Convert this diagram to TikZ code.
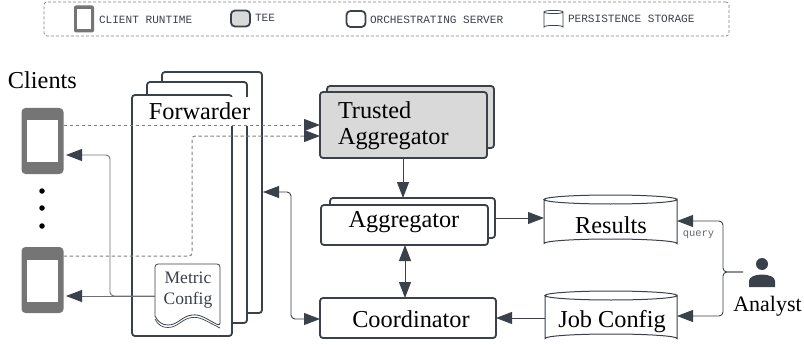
\documentclass[tikz,border=0pt]{standalone}
\usepackage{fontspec}
\setmainfont{Liberation Serif}
\setmonofont{Liberation Mono}
\usetikzlibrary{arrows.meta,calc}
\definecolor{slate}{HTML}{3A414A}
\definecolor{phonegray}{HTML}{757575}
\definecolor{teegray}{HTML}{D9D9D9}
\definecolor{dashgray}{HTML}{808080}
\newcommand{\fsz}[1]{\fontsize{#1}{#1}\selectfont}
\newcommand{\cylw}{133}
\newcommand{\cylpath}[3][]{%
  \draw[slate,line width=1pt,fill=white,#1] (#2.north west) -- (#2.south west)
    arc[start angle=180,end angle=360,x radius=0.5*\cylw,y radius=#3]
    -- (#2.north east)
    arc[start angle=0,end angle=360,x radius=0.5*\cylw,y radius=#3];}
\tikzset{
  x=1pt,y=-1pt,
  every node/.style={inner sep=0pt,outer sep=0pt},
  size/.style 2 args={minimum width=#1,minimum height=#2},
  box/.style={draw=slate,line width=1.8pt,rounded corners=3pt,fill=white},
  tee/.style={box,fill=teegray},
  phone/.style={fill=phonegray,rounded corners=3pt},
  screen/.style={fill=white},
  big/.style={font=\fsz{24.3}},
  legend/.style={font=\ttfamily\fsz{11.1},text=slate,anchor=west},
  conn/.style={draw=slate,line width=0.9pt,rounded corners=4pt},
  endtip/.style={-{Triangle[length=16pt,width=12pt,color=slate]}},
  bothtip/.style={{Triangle[length=16pt,width=12pt,color=slate]}-{Triangle[length=16pt,width=12pt,color=slate]}},
  dashconn/.style={draw=dashgray,line width=1pt,dash pattern=on 3.5pt off 2.5pt,rounded corners=3pt},
}
\begin{document}
\begin{tikzpicture}
\useasboundingbox (0,0) rectangle (804,345);
% legend
\node[draw=dashgray,line width=0.7pt,dash pattern=on 3pt off 2pt,rounded corners=3pt,size={685}{34}] (legend) at (386.5,19) {};
\node[phone,size={20}{27},rounded corners=2pt] (lgclient) at (84,19) {};
\node[screen,size={14}{20}] (lgscreen) at (84,19) {};
\node[legend] (lgclienttext) at (99,19.5) {CLIENT RUNTIME};
\node[tee,size={19}{16},rounded corners=4pt] (lgtee) at (240.5,18.5) {};
\node[legend] (lgteetext) at (255,18) {TEE};
\node[box,size={19}{16},rounded corners=4pt] (lgserver) at (356,19) {};
\node[legend] (lgservertext) at (370,19.5) {ORCHESTRATING SERVER};
\node[size={19}{15}] (lgcyl) at (553.5,19.5) {};
\renewcommand{\cylw}{19}\cylpath[line width=0.8pt]{lgcyl}{1.6}
\node[legend] (lgcyltext) at (568,18.5) {PERSISTENCE STORAGE};
% clients
\node[big,anchor=west] (clients) at (8,80) {Clients};
\node[phone,size={42}{66},rounded corners=4pt] (phoneA) at (42.5,141) {};
\node[screen,size={31}{42}] (screenA) at (42.5,141) {};
\node[phone,size={42}{66},rounded corners=4pt] (phoneB) at (42.5,280) {};
\node[screen,size={31}{42}] (screenB) at (42.5,280.5) {};
\foreach \n/\y in {a/191,b/208,c/226}
  \node[fill=black,circle,minimum size=5.5pt] (dot\n) at (42,\y) {};
% forwarder stack
\node[box,size={100}{241}] (fwC) at (212,192.5) {};
\node[box,size={100}{241}] (fwB) at (197,202.5) {};
\node[box,size={100}{241}] (fwA) at (182,215.5) {};
\node[big,fill=white,size={103}{28}] (fwlabel) at (199.5,111.5) {Forwarder};
% metric config
\node[size={65}{62}] (metric) at (187.5,295) {};
\draw[slate,line width=0.8pt,fill=white,rounded corners=3pt] (155,316) -- (155,264) -- (220,264) -- (220,326)
  [rounded corners=0pt] .. controls (205,318) and (200,314) .. (192,315) .. controls (182,316) and (178,325) .. (168,325) .. controls (162,325) and (158,322) .. (155,316) -- cycle;
\draw[slate,line width=0.7pt] (155,319) .. controls (158,325) and (162,327.5) .. (168,327.5) .. controls (178,327.5) and (182,318.5) .. (192,317.5) .. controls (200,316.5) and (205,320.5) .. (220,328);
\node[font=\fsz{17.5},text=slate] (metrictext1) at (188,277.5) {Metric};
\node[font=\fsz{17.5},text=slate] (metrictext2) at (188,300.5) {Config};
% trusted aggregator
\node[tee,size={167}{62}] (taB) at (410.5,117) {};
\node[tee,size={167}{66}] (taA) at (403.5,125) {};
\node[big,anchor=west] (tatext1) at (338,110) {Trusted};
\node[big,anchor=west] (tatext2) at (338,139.5) {Aggregator};
% aggregator
\node[box,size={165}{40}] (agB) at (412.5,218) {};
\node[box,size={167}{40}] (agA) at (404.5,225) {};
\node[big] (agtext) at (404,222.5) {Aggregator};
% coordinator
\node[box,size={176}{40}] (coord) at (408,318) {};
\node[big] (coordtext) at (411,319) {Coordinator};
% cylinders
\node[size={133}{44}] (results) at (610.5,221.5) {};
\renewcommand{\cylw}{133}\cylpath{results}{4.5}
\node[big] (restext) at (611,225) {Results};
\node[size={132}{43}] (jobcfg) at (611,317) {};
\renewcommand{\cylw}{132}\cylpath{jobcfg}{4.5}
\node[big] (jobtext) at (612,322) {Job Config};
% analyst
\node[fill=slate,circle,minimum size=12pt] (head) at (762,264) {};
\fill[slate] (749,287) -- (749,281) .. controls (749,277) and (755,274.5) .. (762,274.5) .. controls (769,274.5) and (775,277) .. (775,281) -- (775,287) -- cycle;
\node[size={26}{12}] (body) at (762,281) {};
\node[font=\fsz{22}] (analyst) at (767.5,306.5) {Analyst};
% connectors
\coordinate (ajunction) at (743,272);
\coordinate (abend) at (723,272);
\coordinate (metricL) at (155,296);
\coordinate (fwport) at (263,192);
\coordinate (fwbend) at (291,192);
\draw[dashconn,endtip] (phoneA.east |- 0,125) -- (taA.west |- 0,125);
\draw[dashconn,endtip] (phoneB.east |- 0,256) -- (192,256) -- (192,136) -- (taA.west |- 0,136);
\draw[conn,draw=slate!75,endtip,shorten >=2.5pt] (metricL) -- (phoneB.east |- metricL);
\draw[conn,draw=slate!75,endtip,shorten >=2.5pt] (metricL) -- (110,296) -- (110,155) -- (phoneA.east |- 0,155);
\draw[conn,bothtip] (fwport) -- (fwbend) -- (291,319) -- (coord.west |- 0,319);
\draw[conn,endtip] (taA.south -| 403,0) -- (agB.north -| 403,0);
\draw[conn,bothtip] (agA.south -| 405,0) -- (coord.north -| 405,0);
\draw[conn,endtip] (agB.east |- 0,218) -- (results.west |- 0,218);
\draw[conn,endtip] (jobcfg.west |- 0,318) -- (coord.east |- 0,318);
\draw[conn,endtip] (ajunction) -- (abend) -- (723,221) -- (results.east |- 0,221);
\draw[conn,endtip] (ajunction) -- (abend) -- (723,316) -- (jobcfg.east |- 0,316);
\node[font=\ttfamily\fsz{10.5},text=slate!80] (query) at (698.5,235) {query};
\end{tikzpicture}
\end{document}
